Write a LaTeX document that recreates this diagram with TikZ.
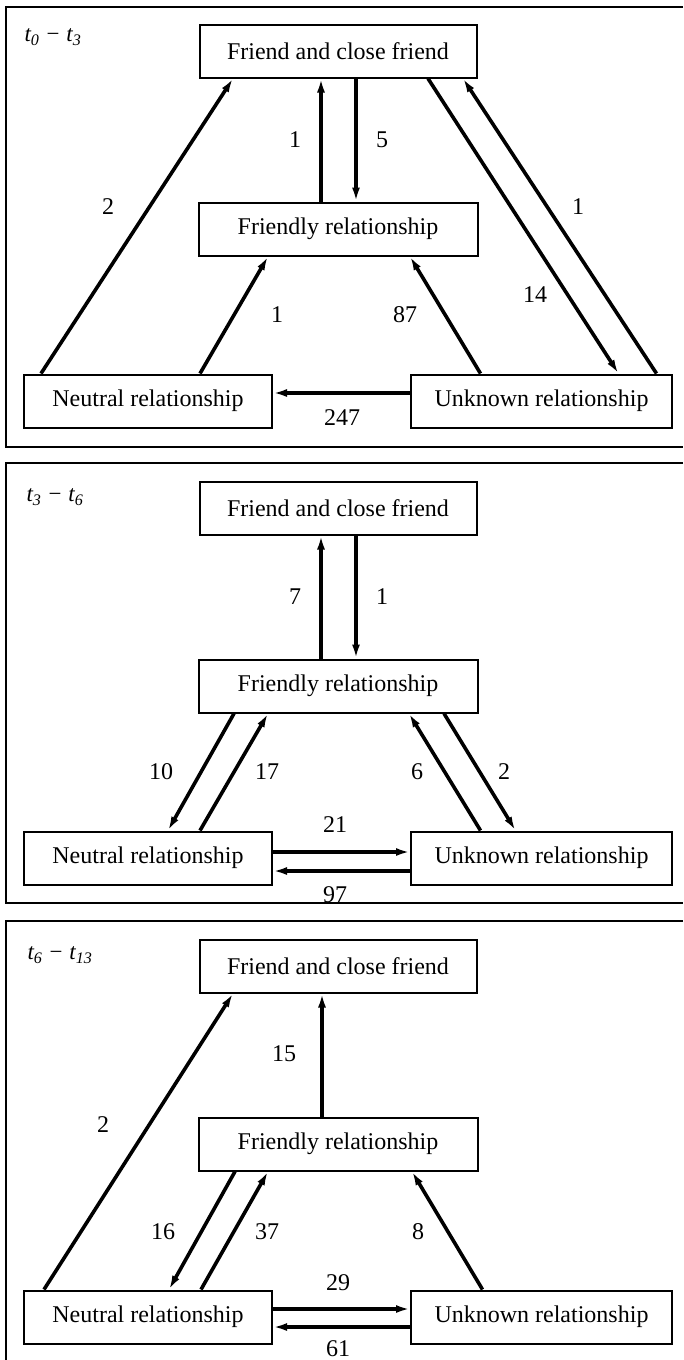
\documentclass[tikz,border=0pt]{standalone}
\usepackage{fontspec}
\setmainfont{Liberation Serif}
\usetikzlibrary{positioning}
\usetikzlibrary{arrows.meta}

\begin{document}
\begin{tikzpicture}[x=1pt,y=1pt,
      font=\fontsize{24}{28}\selectfont,
      rel style/.style={rectangle,draw=black,line width=2pt,minimum
        height=53pt,inner sep=0pt,align=center},
      flow style/.style={line width=3.6pt,-{Latex[length=14pt,width=8pt]}},
      num style/.style={inner sep=0pt},
      period style/.style={font=\fontsize{23}{27}\selectfont\itshape,inner sep=0pt},
      frame style/.style={line width=2.2pt}
      ]
      \useasboundingbox (0,0) rectangle (683,-1360);

      % t0 - t3
      \begin{scope}
      \draw[frame style] (683,-7) -| (6,-447) -- (683,-447);
      \node[period style] (per1) at (53,-37) {t\textsubscript{0} − t\textsubscript{3}};
      \node[rel style,minimum width=277pt] (fcf1) at (338,-51) {Friend and close friend};
      \node[rel style,minimum width=279pt,below=123pt of fcf1] (fr1) {Friendly relationship};
      \node[rel style,minimum width=248pt] (neu1) at (148,-401) {Neutral relationship};
      \node[rel style,minimum width=261pt,right=137pt of neu1] (unk1) {Unknown relationship};

      \draw[flow style] ([xshift=-107pt]neu1.north) -- ([xshift=-105pt]fcf1.south);
      \draw[flow style] ([xshift=-17pt]fr1.north) -- ([xshift=-17pt]fcf1.south);
      \draw[flow style] ([xshift=18pt]fcf1.south) -- ([xshift=18pt]fr1.north);
      \draw[flow style] ([xshift=90pt]fcf1.south) -- ([xshift=77pt]unk1.north);
      \draw[flow style] ([xshift=115pt]unk1.north) -- ([xshift=125pt]fcf1.south);
      \draw[flow style] ([xshift=52pt]neu1.north) -- ([xshift=-70pt]fr1.south);
      \draw[flow style] ([xshift=-61pt]unk1.north) -- ([xshift=72pt]fr1.south);
      \draw[flow style] ([yshift=8pt]unk1.west) -- ([yshift=8pt]neu1.east);

      \node[num style] (n1a) at (108,-207) {2};
      \node[num style] (n1b) at (295,-140) {1};
      \node[num style] (n1c) at (382,-140) {5};
      \node[num style] (n1d) at (535,-295) {14};
      \node[num style] (n1e) at (578,-207) {1};
      \node[num style] (n1f) at (277,-315) {1};
      \node[num style] (n1g) at (405,-315) {87};
      \node[num style] (n1h) at (342,-418) {247};
      \end{scope}

      % t3 - t6
      \begin{scope}[yshift=-457pt]
      \draw[frame style] (683,-6) -| (6,-446) -- (683,-446);
      \node[period style] (per2) at (55,-40) {t\textsubscript{3} − t\textsubscript{6}};
      \node[rel style,minimum width=277pt] (fcf2) at (338,-51) {Friend and close friend};
      \node[rel style,minimum width=279pt,below=123pt of fcf2] (fr2) {Friendly relationship};
      \node[rel style,minimum width=248pt] (neu2) at (148,-401) {Neutral relationship};
      \node[rel style,minimum width=261pt,right=137pt of neu2] (unk2) {Unknown relationship};

      \draw[flow style] ([xshift=-17pt]fr2.north) -- ([xshift=-17pt]fcf2.south);
      \draw[flow style] ([xshift=18pt]fcf2.south) -- ([xshift=18pt]fr2.north);
      \draw[flow style] ([xshift=-104pt]fr2.south) -- ([xshift=20pt]neu2.north);
      \draw[flow style] ([xshift=52pt]neu2.north) -- ([xshift=-70pt]fr2.south);
      \draw[flow style] ([xshift=-61pt]unk2.north) -- ([xshift=71pt]fr2.south);
      \draw[flow style] ([xshift=106pt]fr2.south) -- ([xshift=-26pt]unk2.north);
      \draw[flow style] ([yshift=6pt]neu2.east) -- ([yshift=6pt]unk2.west);
      \draw[flow style] ([yshift=-13pt]unk2.west) -- ([yshift=-13pt]neu2.east);

      \node[num style] (n2a) at (295,-140) {7};
      \node[num style] (n2b) at (382,-140) {1};
      \node[num style] (n2c) at (161,-315) {10};
      \node[num style] (n2d) at (267,-315) {17};
      \node[num style] (n2e) at (417,-315) {6};
      \node[num style] (n2f) at (504,-315) {2};
      \node[num style] (n2g) at (335,-368) {21};
      \node[num style] (n2h) at (335,-438) {97};
      \end{scope}

      % t6 - t13
      \begin{scope}[yshift=-915pt]
      \draw[frame style] (683,-6) -| (6,-447);
      \node[period style] (per3) at (60,-40) {t\textsubscript{6} − t\textsubscript{13}};
      \node[rel style,minimum width=277pt] (fcf3) at (338,-51) {Friend and close friend};
      \node[rel style,minimum width=279pt,below=123pt of fcf3] (fr3) {Friendly relationship};
      \node[rel style,minimum width=248pt] (neu3) at (148,-402) {Neutral relationship};
      \node[rel style,minimum width=261pt,right=137pt of neu3] (unk3) {Unknown relationship};

      \draw[flow style] ([xshift=-104pt]neu3.north) -- ([xshift=-105pt]fcf3.south);
      \draw[flow style] ([xshift=-16pt]fr3.north) -- ([xshift=-16pt]fcf3.south);
      \draw[flow style] ([xshift=-103pt]fr3.south) -- ([xshift=21pt]neu3.north);
      \draw[flow style] ([xshift=53pt]neu3.north) -- ([xshift=-70pt]fr3.south);
      \draw[flow style] ([xshift=-59pt]unk3.north) -- ([xshift=74pt]fr3.south);
      \draw[flow style] ([yshift=8pt]neu3.east) -- ([yshift=8pt]unk3.west);
      \draw[flow style] ([yshift=-10pt]unk3.west) -- ([yshift=-10pt]neu3.east);

      \node[num style] (n3a) at (103,-210) {2};
      \node[num style] (n3b) at (284,-139) {15};
      \node[num style] (n3c) at (163,-317) {16};
      \node[num style] (n3d) at (267,-317) {37};
      \node[num style] (n3e) at (418,-317) {8};
      \node[num style] (n3f) at (338,-368) {29};
      \node[num style] (n3g) at (338,-434) {61};
      \end{scope}

    \end{tikzpicture}
\end{document}
